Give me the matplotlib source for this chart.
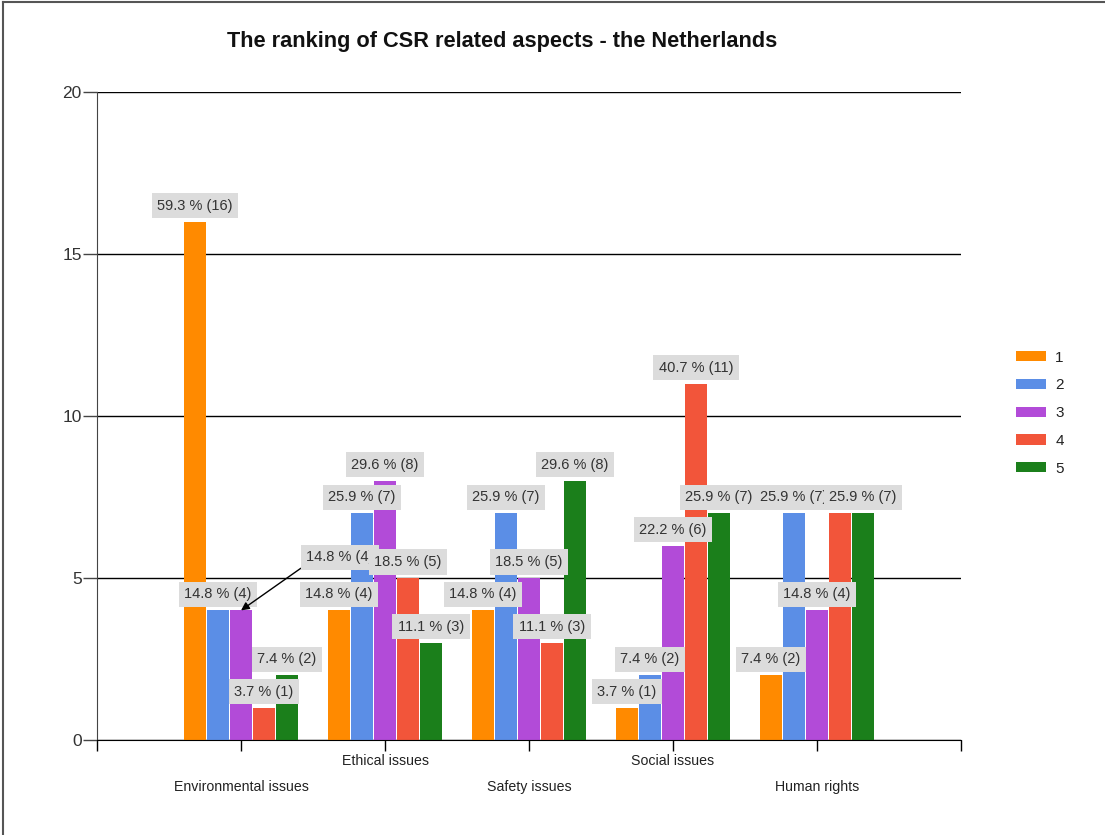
"""
CSR ranking bar chart, the Netherlands
"""

import numpy as np  # pylint: disable=import-error
import matplotlib
matplotlib.use('Agg')
import matplotlib.pyplot as plt  # pylint: disable=import-error
from matplotlib.lines import Line2D

categories = ['Environmental issues', 'Ethical issues', 'Safety issues',
              'Social issues', 'Human rights']
ranks = ['1', '2', '3', '4', '5']
# counts per rank, one list per rank, in category order
rank_1 = [16, 4, 4, 1, 2]
rank_2 = [4, 7, 7, 2, 7]
rank_3 = [4, 8, 5, 6, 4]
rank_4 = [1, 5, 3, 11, 7]
rank_5 = [2, 3, 8, 7, 7]
yticks = [0, 5, 10, 15, 20]

colors = ['#FF8A00', '#5B8EE6', '#B24BD8', '#F2553A', '#1B7F1B']
# labels that the chart moved or hid: (category, rank) -> offset px / None
moved_labels = {(0, 2): (99, 53)}
hidden_labels = [(4, 3)]


def main():
    """
    Draw the chart
    """
    plt.rcParams['font.family'] = ['Liberation Sans', 'DejaVu Sans']
    series = np.array([rank_1, rank_2, rank_3, rank_4, rank_5])
    totals = series.sum(axis=0)

    fig = plt.figure(figsize=(11.05, 8.35), dpi=100)
    ax = fig.add_axes([97 / 1105, 1 - 740 / 835, 864 / 1105, 648 / 835])

    x = np.arange(1, len(categories) + 1)
    step = 0.16
    for i, vals in enumerate(series):
        ax.bar(x + (i - 2) * step, vals, width=0.152, color=colors[i],
               label=ranks[i], zorder=2, linewidth=0)

    box = dict(boxstyle='square,pad=0.38', fc='#DCDCDC', ec='none')
    for c in range(len(categories)):
        for i in range(len(ranks)):
            if (c, i) in hidden_labels:
                continue
            v = series[i, c]
            txt = f'{v / totals[c] * 100:.1f} % ({v})'
            xb = x[c] + (i - 2) * step
            if (c, i) in moved_labels:
                dx, dy = moved_labels[(c, i)]
                ax.annotate(txt, xy=(xb, v), xytext=(dx, dy),
                            textcoords='offset pixels', ha='center', va='center',
                            fontsize=10.5, color='#333333', zorder=5, bbox=box,
                            arrowprops=dict(arrowstyle='-|>', color='black', lw=1,
                                            relpos=(0, 0), shrinkA=0, shrinkB=0,
                                            mutation_scale=12))
            else:
                ax.annotate(txt, xy=(xb, v), xytext=(0, 16),
                            textcoords='offset pixels', ha='center', va='center',
                            fontsize=10.5, color='#333333', zorder=5, bbox=box)

    ax.set_xlim(0, 6)
    ax.set_ylim(0, 20)
    ax.set_yticks(yticks)
    ax.set_yticklabels([str(t) for t in yticks], fontsize=12.5, color='#333333')
    ax.yaxis.grid(True, color='black', lw=1)
    ax.set_axisbelow(True)
    ax.tick_params(axis='y', length=10, width=1, color='#444444', pad=1)

    ax.set_xticks(np.arange(0, 7))
    ax.set_xticklabels([''] * 7)
    ax.tick_params(axis='x', length=8, width=1, color='black')
    for c, name in enumerate(categories):
        yoff = -21 if c % 2 == 1 else -47
        ax.annotate(name, xy=(x[c], 0), xytext=(0, yoff), textcoords='offset pixels',
                    ha='center', va='center', fontsize=10.2, color='#222222',
                    annotation_clip=False)

    for side in ['top', 'right']:
        ax.spines[side].set_visible(False)
    ax.spines['left'].set_color('#444444')
    ax.spines['bottom'].set_color('black')

    fig.text(502 / 1105, 1 - 42 / 835, 'The ranking of CSR related aspects - the Netherlands',
             ha='center', va='center', fontsize=15.7, fontweight='bold', color='#111111')

    leg = ax.legend(loc='upper left', bbox_to_anchor=(1008 / 1105, 1 - 343 / 835),
                    bbox_transform=fig.transFigure, frameon=False, fontsize=11,
                    handlelength=2.0, handleheight=0.65, labelspacing=0.9,
                    handletextpad=0.6, borderpad=0)
    for t in leg.get_texts():
        t.set_color('#222222')

    fig.add_artist(Line2D([3 / 1105, 3 / 1105], [0, 1 - 2 / 835], color='#555555', lw=1.5))
    fig.add_artist(Line2D([3 / 1105, 1], [1 - 2 / 835, 1 - 2 / 835], color='#555555', lw=1.5))

    fig.savefig('out.png', dpi=100)


if __name__ == "__main__":
    main()
